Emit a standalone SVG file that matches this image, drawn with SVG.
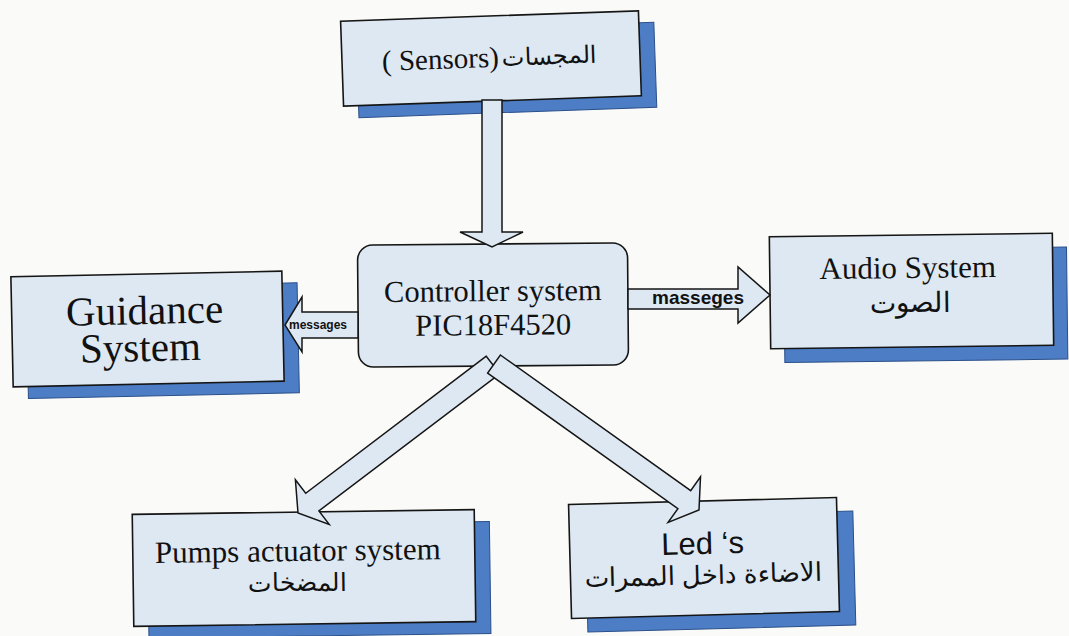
<svg xmlns="http://www.w3.org/2000/svg" width="1069" height="636" viewBox="0 0 1069 636">
<style>
.bg{fill:#fafaf8}
.front{fill:#dde8f2;stroke:#151515;stroke-width:1.6}
.shadow{fill:#4d7dc4;stroke:#2a4f8a;stroke-width:1}
.arrow{fill:#dde8f2;stroke:#151515;stroke-width:1.5;stroke-linejoin:miter}
.serif{font-family:"Liberation Serif","Times New Roman",serif;fill:#111}
.sans{font-family:"Liberation Sans",Arial,sans-serif;fill:#111}
.lbl{font-family:"Liberation Sans",Arial,sans-serif;font-weight:bold;fill:#111}
</style>
<rect class="bg" x="0" y="0" width="1069" height="636"/>
<g id="sensors" transform="rotate(-2 491 59)">
<rect class="shadow" x="357" y="28" width="298" height="85"/>
<rect class="front" x="342" y="16" width="298" height="85"/>
<text class="serif" x="382" y="67" font-size="29" direction="ltr" unicode-bidi="bidi-override">( Sensors)</text>
<text class="serif" x="597" y="66" font-size="24" text-anchor="end">المجسات</text>
</g>
<g id="guidance" transform="rotate(-1.2 147 329)">
<rect class="shadow" x="27" y="286" width="271" height="110"/>
<rect class="front" x="12" y="274" width="271" height="110"/>
<text class="serif" x="145" y="324" font-size="41" text-anchor="middle">Guidance</text>
<text class="serif" x="140" y="361" font-size="41" text-anchor="middle">System</text>
</g>
<g id="controller" transform="rotate(-0.5 493 305)">
<rect class="front" x="358" y="244" width="270" height="122" rx="15" ry="15"/>
<text class="serif" x="493" y="301" font-size="30.5" text-anchor="middle">Controller system</text>
<text class="serif" x="493" y="335" font-size="30.5" text-anchor="middle">PIC18F4520</text>
</g>
<g id="audio" transform="rotate(-0.7 911 291)">
<rect class="shadow" x="784" y="249" width="283" height="112"/>
<rect class="front" x="770" y="235" width="283" height="112"/>
<text class="serif" x="908" y="278" font-size="31" text-anchor="middle">Audio System</text>
<text class="serif" x="910" y="312" font-size="28" text-anchor="middle">الصوت</text>
</g>
<g id="pumps" transform="rotate(-0.8 304 568)">
<rect class="shadow" x="148" y="524" width="342" height="112"/>
<rect class="front" x="133" y="512" width="342" height="112"/>
<text class="serif" x="298" y="561" font-size="31" text-anchor="middle">Pumps actuator system</text>
<text class="serif" x="297" y="591" font-size="25" text-anchor="middle">المضخات</text>
</g>
<g id="leds" transform="rotate(-1.5 704 558)">
<rect class="shadow" x="586" y="515" width="268" height="114"/>
<rect class="front" x="570" y="501" width="268" height="114"/>
<text class="sans" x="703" y="554" font-size="31" text-anchor="middle">Led ‘s</text>
<text class="sans" x="703" y="584" font-size="26" text-anchor="middle">الاضاءة داخل الممرات</text>
</g>
<g id="connectors">
<polygon class="arrow" points="482,100 502,100 502,232 523,232 492,247 460,232 482,232"/>
<polygon class="arrow" points="358,312 302,312 302,297 285,325 302,352 302,338 358,338"/>
<text class="lbl" x="318" y="329" font-size="12" text-anchor="middle">messages</text>
<polygon class="arrow" points="628,289 738,289 738,267 770,295 738,323 738,309 628,309"/>
<text class="lbl" x="698" y="304" font-size="19" text-anchor="middle">masseges</text>
<polygon class="arrow" points="486.3,356.2 305.7,493.3 295.4,479.8 298,513 329.2,524.4 318.9,510.9 499.7,373.8"/>
<polygon class="arrow" points="500.4,355 690.7,490.6 700.5,476.8 699,510 668.1,522.4 677.9,508.6 487.6,373"/>
</g>
</svg>
